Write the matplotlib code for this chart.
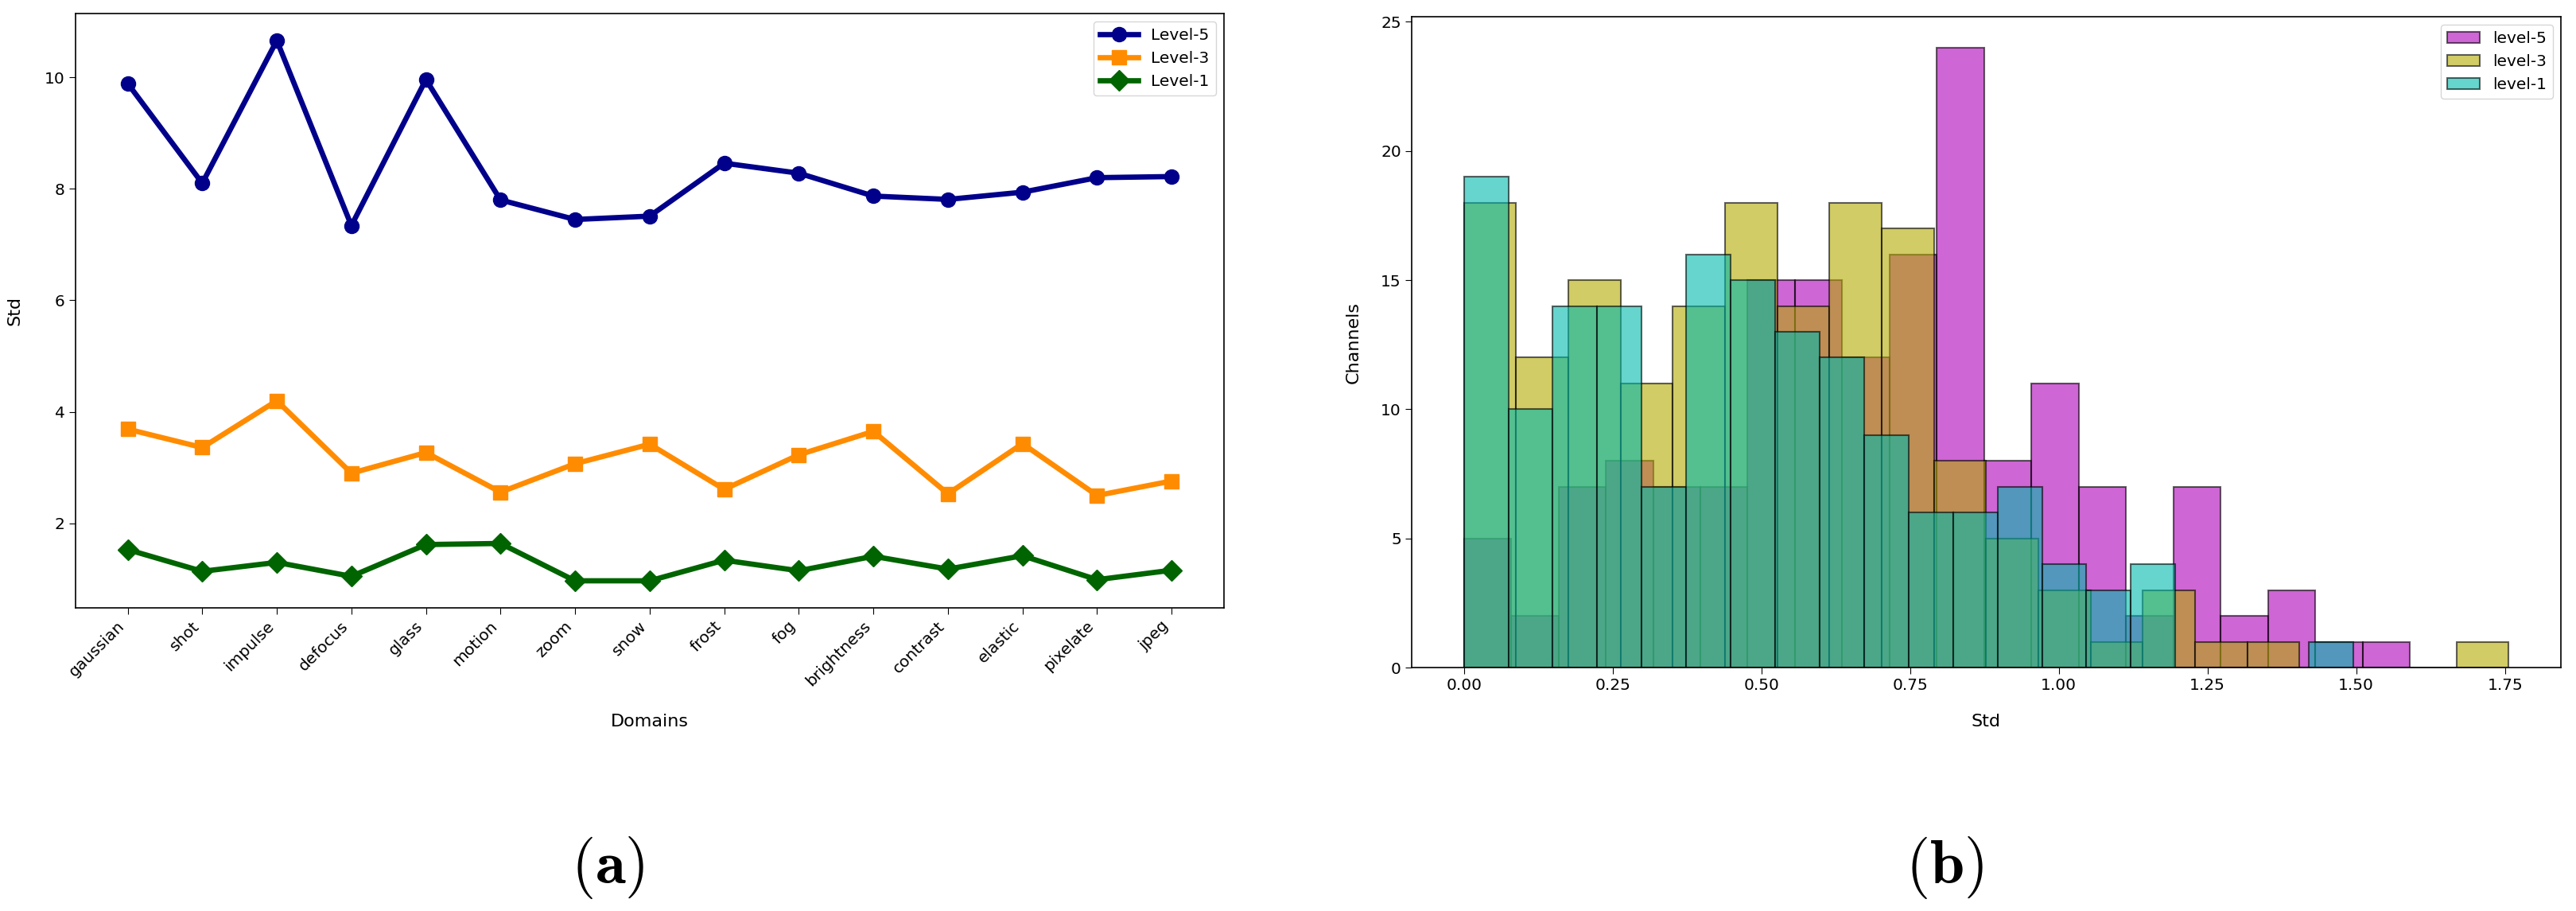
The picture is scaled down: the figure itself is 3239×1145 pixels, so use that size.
import numpy as np
import matplotlib
matplotlib.use("Agg")
import matplotlib.pyplot as plt

plt.rcParams["mathtext.fontset"] = "cm"

# ---- (a) per-domain std for three severity levels ----
domains = ["gaussian", "shot", "impulse", "defocus", "glass", "motion", "zoom",
           "snow", "frost", "fog", "brightness", "contrast", "elastic",
           "pixelate", "jpeg"]
std_level5 = [9.89, 8.10, 10.66, 7.34, 9.96, 7.80, 7.45, 7.51, 8.46, 8.28,
              7.87, 7.81, 7.94, 8.20, 8.22]
std_level3 = [3.69, 3.36, 4.20, 2.90, 3.27, 2.56, 3.07, 3.42, 2.61, 3.23,
              3.65, 2.53, 3.43, 2.50, 2.76]
std_level1 = [1.53, 1.14, 1.30, 1.05, 1.62, 1.64, 0.97, 0.97, 1.34, 1.15,
              1.41, 1.18, 1.42, 0.99, 1.16]

# ---- (b) histogram of channel std (20 bins each) ----
hist_l5_range = (0.0, 1.59)
hist_l5_counts = [5, 2, 7, 8, 7, 7, 15, 15, 12, 16, 24, 8, 11, 7, 2, 7, 2, 3, 1, 1]
hist_l3_range = (0.0, 1.756)
hist_l3_counts = [18, 12, 15, 11, 14, 18, 14, 18, 17, 8, 5, 3, 1, 3, 1, 1, 0, 0, 0, 1]
hist_l1_range = (0.0, 1.495)
hist_l1_counts = [19, 10, 14, 14, 7, 16, 15, 13, 12, 9, 6, 6, 7, 4, 3, 4, 0, 0, 0, 1]

TICK_FS = 14.5
LABEL_FS = 16

fig = plt.figure(figsize=(32.39, 11.45), dpi=100)

# left panel
ax1 = fig.add_axes([0.0293, 0.3328, 0.4458, 0.6524])
x = np.arange(len(domains))
ax1.plot(x, std_level5, "-o", color="darkblue", lw=4.8, ms=13, label="Level-5")
ax1.plot(x, std_level3, "-s", color="darkorange", lw=4.8, ms=13, label="Level-3")
ax1.plot(x, std_level1, "-D", color="darkgreen", lw=4.8, ms=13, label="Level-1")
ax1.set_xticks(x)
ax1.set_xticklabels(domains, rotation=45, ha="right")
ax1.set_yticks([2, 4, 6, 8, 10])
ax1.tick_params(labelsize=TICK_FS, length=6)
ax1.set_xlabel("Domains", fontsize=LABEL_FS)
ax1.set_ylabel("Std", fontsize=LABEL_FS)
ax1.xaxis.set_label_coords(0.5, -0.178)
ax1.yaxis.set_label_coords(-0.046, 0.5)
ax1.legend(loc="upper right", fontsize=TICK_FS, handlelength=2.4)
for sp in ax1.spines.values():
    sp.set_linewidth(1.2)

# right panel
ax2 = fig.add_axes([0.548, 0.2672, 0.4461, 0.7145])
for rng, counts, color, label in [
        (hist_l5_range, hist_l5_counts, "#AF00B9", "level-5"),
        (hist_l3_range, hist_l3_counts, "#B4AA00", "level-3"),
        (hist_l1_range, hist_l1_counts, "#00B9AC", "level-1")]:
    edges = np.linspace(rng[0], rng[1], len(counts) + 1)
    centers = (edges[:-1] + edges[1:]) / 2
    ax2.hist(centers, bins=edges, weights=counts, color=color, alpha=0.6,
             edgecolor="black", linewidth=1.5, label=label)
ax2.set_xticks([0.0, 0.25, 0.5, 0.75, 1.0, 1.25, 1.5, 1.75])
ax2.set_yticks([0, 5, 10, 15, 20, 25])
ax2.tick_params(labelsize=TICK_FS, length=6)
ax2.set_xlabel("Std", fontsize=LABEL_FS)
ax2.set_ylabel("Channels", fontsize=LABEL_FS)
ax2.xaxis.set_label_coords(0.5, -0.071)
ax2.yaxis.set_label_coords(-0.044, 0.5)
ax2.legend(loc="upper right", fontsize=TICK_FS)
for sp in ax2.spines.values():
    sp.set_linewidth(1.2)

fig.text(0.236, 0.048, r"$(\mathbf{a})$", fontsize=56, ha="center", va="center")
fig.text(0.755, 0.048, r"$(\mathbf{b})$", fontsize=56, ha="center", va="center")

fig.savefig("out.png", dpi=100)
